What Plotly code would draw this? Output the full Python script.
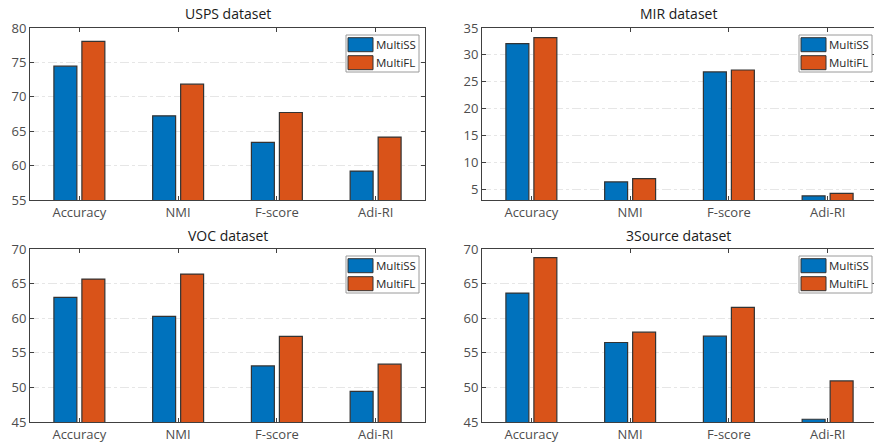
import plotly.graph_objects as go

categories = ["Accuracy", "NMI", "F-score", "Adi-RI"]
methods = ["MultiSS", "MultiFL"]
colors = ["#0072BD", "#D95319"]

titles = ["USPS dataset", "MIR dataset", "VOC dataset", "3Source dataset"]
usps_ss = [74.45, 67.23, 63.37, 59.2]
usps_fl = [78.07, 71.83, 67.72, 64.14]
mir_ss = [32.09, 6.36, 26.82, 3.76]
mir_fl = [33.2, 6.98, 27.19, 4.25]
voc_ss = [63.0, 60.25, 53.11, 49.44]
voc_fl = [65.66, 66.38, 57.36, 53.35]
src_ss = [63.63, 56.49, 57.4, 45.4]
src_fl = [68.75, 57.98, 61.55, 50.94]

series = [(usps_ss, usps_fl), (mir_ss, mir_fl), (voc_ss, voc_fl), (src_ss, src_fl)]
y_ranges = [[55, 80], [3, 35], [45, 70], [45, 70]]
y_ticks = [[55, 60, 65, 70, 75, 80], [5, 10, 15, 20, 25, 30, 35],
           [45, 50, 55, 60, 65, 70], [45, 50, 55, 60, 65, 70]]

W, H = 874, 443
# axis pixel boxes (left, top, right, bottom)
boxes = [(30, 28, 425, 200), (482, 28, 874, 200),
         (30, 249, 425, 422), (482, 249, 874, 422)]

FONT = "Open Sans"
AXC = "#404040"

fig = go.Figure()
shapes = []
annotations = []

for i in range(4):
    n = "" if i == 0 else str(i + 1)
    xa, ya = "x" + n, "y" + n
    l, t, r, b = boxes[i]
    for j, m in enumerate(methods):
        fig.add_trace(go.Bar(
            x=categories, y=series[i][j], name=m,
            marker=dict(color=colors[j], line=dict(color="#333333", width=1.2)),
            xaxis=xa, yaxis=ya, showlegend=False, offsetgroup=str(j)))
    pw = r - l
    ph = b - t
    xrng_end = 3.5 - (395 - pw) / 98.75
    xkey = "xaxis" + n
    ykey = "yaxis" + n
    fig.layout[xkey] = dict(
        domain=[l / W, r / W], anchor=ya, type="category",
        range=[-0.5, xrng_end], showgrid=False, automargin=False,
        showline=True, linecolor=AXC, linewidth=1, mirror="allticks",
        ticks="inside", ticklen=4, tickcolor=AXC,
        tickfont=dict(family=FONT, size=13, color="#4d4d4d"), fixedrange=True)
    fig.layout[ykey] = dict(
        domain=[1 - b / H, 1 - t / H], anchor=xa, automargin=False,
        range=y_ranges[i], tickvals=y_ticks[i],
        showgrid=True, gridcolor="#e6e6e6", griddash="dashdot", gridwidth=1,
        showline=True, linecolor=AXC, linewidth=1, mirror="allticks",
        ticks="inside", ticklen=4, tickcolor=AXC, zeroline=False,
        tickfont=dict(family=FONT, size=13, color="#4d4d4d"), fixedrange=True)
    # title
    annotations.append(dict(
        text=titles[i], xref="paper", yref="paper",
        x=(l + r) / 2 / W, y=1 - (t - 14) / H, xanchor="center", yanchor="middle",
        showarrow=False, font=dict(family=FONT, size=14, color="#1a1a1a")))
    # legend (custom, in pixel offsets converted to axis-domain)
    xd, yd = xa + " domain", ya + " domain"
    bx1 = 1 - 6 / 395 if pw == 395 else 1 - 2 / pw
    bx0 = bx1 - 73 / pw
    by1 = 1 - 7 / ph
    by0 = 1 - 44 / ph
    shapes.append(dict(type="rect", xref=xd, yref=yd, x0=bx0, x1=bx1, y0=by0, y1=by1,
                       line=dict(color="#9a9a9a", width=1), fillcolor="white", layer="above"))
    for j, m in enumerate(methods):
        top = 7 + 2.7 + j * 18
        shapes.append(dict(type="rect", xref=xd, yref=yd,
                           x0=bx0 + 2 / pw, x1=bx0 + 27 / pw,
                           y0=1 - (top + 14) / ph, y1=1 - top / ph,
                           line=dict(color="#333333", width=1), fillcolor=colors[j], layer="above"))
        annotations.append(dict(
            text=m, xref=xd, yref=yd, x=bx0 + 28 / pw, y=1 - (top + 7) / ph,
            xanchor="left", yanchor="middle", showarrow=False,
            font=dict(family=FONT, size=11.5, color="#262626")))

fig.update_layout(
    width=W, height=H, autosize=False,
    margin=dict(l=0, r=0, t=0, b=0, pad=0, autoexpand=False),
    paper_bgcolor="white", plot_bgcolor="white",
    barmode="group", bargap=0.433, bargroupgap=0.18,
    shapes=shapes, annotations=annotations,
    font=dict(family=FONT))

post = ("document.documentElement.style.margin='0';"
        "document.body.style.margin='0';document.body.style.padding='0';"
        "document.body.style.overflow='hidden';"
        "var gd=document.getElementById('{plot_id}');"
        "gd.style.position='absolute';gd.style.left='0px';gd.style.top='0px';")

fig.write_html("out.html", post_script=post,
               config={"displayModeBar": False, "responsive": False, "staticPlot": True})
